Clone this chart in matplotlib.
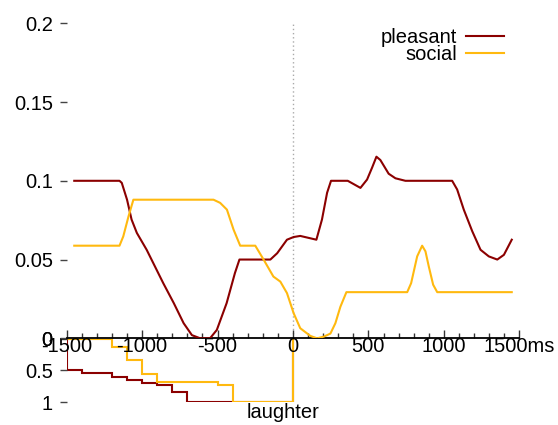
import matplotlib
matplotlib.use("Agg")
import matplotlib.pyplot as plt
from matplotlib.ticker import MultipleLocator, FixedLocator

plt.rcParams['font.family'] = ['Liberation Sans', 'DejaVu Sans']
plt.rcParams['axes.unicode_minus'] = False
FS = 14.5

# ---- data ----
pleasant_t = [-1450, -1150, -1135, -1100, -1070, -1035, -970, -860, -790, -725, -670,
              -615, -550, -505, -440, -385, -355, -150, -105, -40, 4, 48, 155, 192,
              226, 252, 363, 447, 491, 524, 553, 579, 634, 679, 745, 1055, 1088, 1132,
              1188, 1243, 1298, 1354, 1398, 1450]
pleasant_v = [0.1, 0.1, 0.0987, 0.088, 0.0754, 0.0669, 0.0562, 0.035, 0.0223, 0.0096, 0.002,
              0.0, 0.0, 0.0053, 0.0223, 0.0414, 0.05, 0.05, 0.054, 0.0626, 0.0643, 0.065, 0.0626, 0.0754,
              0.0924, 0.1, 0.1, 0.0955, 0.1008, 0.1083, 0.1153, 0.1132, 0.1045, 0.1016, 0.1, 0.1, 0.0945, 0.0817,
              0.068, 0.0562, 0.052, 0.05, 0.053, 0.0626]

social_t = [-1450, -1150, -1125, -1090, -1058, -527, -483, -438, -394, -350, -250, -195,
            -130, -84, -40, 4, 48, 115, 159, 203, 248, 281, 314, 354, 757, 783, 823, 856,
            878, 900, 929, 956, 1450]
social_v = [0.0588, 0.0588, 0.0647, 0.0775, 0.088, 0.088, 0.086, 0.0817, 0.069, 0.0588, 0.0588, 0.05,
            0.0392, 0.036, 0.0287, 0.016, 0.0064, 0.0015, 0.0, 0.001, 0.003, 0.0096, 0.02, 0.0293, 0.0293, 0.035, 0.052, 0.0588,
            0.0552, 0.0456, 0.034, 0.0293, 0.0293]

laugh_edges = [-1500, -1400, -1300, -1200, -1100, -1000, -900, -800, -700,
               -600, -500, -400, -300, -200, -100, 0]
pleasant_laugh = [0.5, 0.545, 0.545, 0.607, 0.654, 0.707, 0.738, 0.843,
                  1.0, 1.0, 1.0, 1.0, 1.0, 1.0, 1.0]
social_laugh = [0.0, 0.0, 0.0, 0.13, 0.34, 0.565, 0.68, 0.68,
                0.68, 0.68, 0.733, 1.0, 1.0, 1.0, 1.0]

top_yticks = [0, 0.05, 0.1, 0.15, 0.2]
top_yticklabels = ['0', '0.05', '0.1', '0.15', '0.2']
xticks = [-1500, -1000, -500, 0, 500, 1000, 1500]
xticklabels = ['-1500', '-1000', '-500', '0', '500', '1000', '1500ms']
bot_yticks = [0, 0.5, 1]
bot_yticklabels = ['0', '0.5', '1']

C_PLEASANT = '#8b0000'
C_SOCIAL = '#ffb90f'
LW = 1.5

W, H = 558, 425
fig = plt.figure(figsize=(W / 100, H / 100), dpi=100)

x0, x1 = 66.7, 519.3
# lower panel
yb0, yb1 = 338.5, 402.0
axb = fig.add_axes([x0 / W, (H - yb1) / H, (x1 - x0) / W, (yb1 - yb0) / H])
axb.set_facecolor('none')
axb.stairs(pleasant_laugh, laugh_edges, baseline=0, color=C_PLEASANT, lw=LW)
axb.stairs(social_laugh, laugh_edges, baseline=0, color=C_SOCIAL, lw=LW)
axb.set_xlim(-1500, 1500)
axb.set_ylim(1, 0)
for s in axb.spines.values():
    s.set_visible(False)
axb.set_xticks([])
axb.yaxis.set_major_locator(FixedLocator(bot_yticks))
axb.set_yticklabels(bot_yticklabels)
axb.tick_params(axis='y', direction='out', length=5, width=1, color='#444444',
                pad=5, labelsize=FS)
axb.text(0.478, -0.02, 'laughter', transform=axb.transAxes, ha='center', va='top',
         fontsize=FS)

# upper panel
yt0, yt1 = 23.3, 338.3
axt = fig.add_axes([x0 / W, (H - yt1) / H, (x1 - x0) / W, (yt1 - yt0) / H])
axt.set_facecolor('none')
axt.axvline(0, color='#aaaaaa', lw=1, ls=(0, (1, 2)), zorder=1)
axt.plot(pleasant_t, pleasant_v, color=C_PLEASANT, lw=LW, label='pleasant', zorder=3,
         solid_joinstyle='round')
axt.plot(social_t, social_v, color=C_SOCIAL, lw=LW, label='social', zorder=3,
         solid_joinstyle='round')
axt.set_xlim(-1500, 1500)
axt.set_ylim(0, 0.2)
for k in ('top', 'right', 'left'):
    axt.spines[k].set_visible(False)
axt.spines['bottom'].set_color('black')
axt.spines['bottom'].set_linewidth(1.3)
axt.set_xticks(xticks)
axt.set_xticklabels(xticklabels)
axt.xaxis.set_minor_locator(MultipleLocator(100))
axt.tick_params(axis='x', which='major', direction='in', length=6, width=1,
                color='#333333', pad=-1, labelsize=FS)
axt.tick_params(axis='x', which='minor', direction='in', length=3.5, width=1,
                color='#333333')
axt.set_yticks(top_yticks)
axt.set_yticklabels(top_yticklabels)
axt.tick_params(axis='y', direction='out', length=5, width=1, color='#444444',
                pad=5, labelsize=FS)

leg = axt.legend(loc='upper right', bbox_to_anchor=(504 / W, 1 - 28 / H),
                 bbox_transform=fig.transFigure, frameon=False, markerfirst=False,
                 fontsize=FS, handlelength=1.9, handletextpad=0.45,
                 labelspacing=-0.08, borderpad=0, borderaxespad=0)

fig.savefig('out.png', dpi=100)
